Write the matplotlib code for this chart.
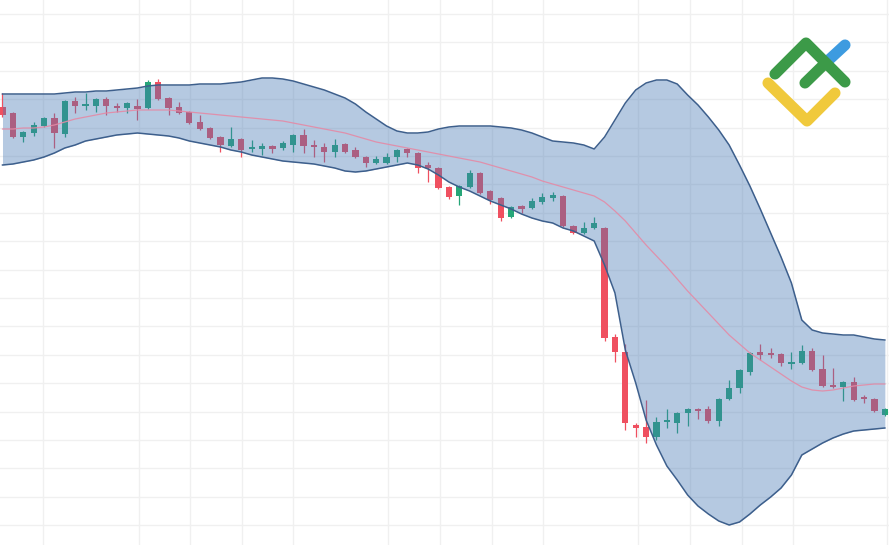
"""Candlestick chart with Bollinger bands, drawn to match the reference picture."""

import matplotlib

matplotlib.use("Agg")

import matplotlib.pyplot as plt
import numpy as np
from matplotlib.lines import Line2D

# --- data (price units) ---------------------------------------------------
opens = [438, 432, 408, 412, 419, 427, 411, 444, 439, 439,
         446, 439, 437, 439, 437, 463, 447, 438, 433, 423,
         417, 408, 399, 406, 396, 396, 399, 397, 400, 410,
         400, 398, 393, 401, 395, 388, 382, 382, 388, 396,
         392, 380, 377, 358, 349, 358, 372, 354, 347, 328,
         339, 337, 343, 347, 349, 319, 312, 317, 317, 208,
         193, 120, 118, 108, 123, 122, 132, 136, 136, 124,
         146, 157, 173, 193, 192, 191, 181, 182, 194, 176,
         160, 158, 163, 148, 146, 130]
highs = [452, 433, 414, 423, 428, 432, 445, 448, 452, 447,
         448, 442, 443, 446, 465, 466, 448, 443, 434, 430,
         418, 409, 418, 407, 405, 402, 400, 404, 411, 416,
         405, 402, 406, 402, 398, 389, 389, 392, 396, 397,
         393, 383, 378, 359, 360, 375, 373, 355, 348, 339,
         340, 347, 352, 353, 350, 320, 323, 328, 318, 211,
         201, 122, 145, 128, 136, 133, 137, 137, 139, 147,
         165, 176, 193, 201, 197, 192, 193, 200, 197, 190,
         177, 164, 168, 150, 147, 137]
lows = [428, 407, 403, 409, 418, 397, 408, 432, 435, 433,
        430, 433, 432, 425, 436, 445, 430, 431, 421, 415,
        406, 393, 398, 388, 393, 390, 392, 395, 393, 392,
        388, 383, 388, 392, 387, 378, 381, 381, 383, 388,
        372, 363, 356, 346, 340, 357, 351, 341, 324, 327,
        332, 336, 341, 344, 318, 311, 311, 316, 204, 183,
        115, 108, 102, 105, 117, 112, 119, 126, 122, 119,
        145, 152, 170, 185, 187, 179, 176, 181, 174, 158,
        157, 144, 144, 142, 133, 129]
closes = [430, 408, 413, 420, 427, 412, 444, 439, 441, 446,
          439, 437, 442, 436, 463, 446, 437, 432, 422, 416,
          407, 400, 406, 395, 398, 399, 396, 402, 410, 399,
          398, 393, 400, 393, 388, 382, 386, 388, 395, 392,
          377, 377, 357, 348, 359, 372, 352, 345, 327, 338,
          336, 344, 348, 350, 319, 312, 317, 322, 207, 193,
          122, 117, 108, 123, 125, 132, 136, 134, 124, 146,
          157, 175, 192, 190, 190, 182, 183, 194, 175, 159,
          158, 163, 145, 146, 134, 136]

band_upper = [451, 451, 451, 451, 451, 451, 452, 453, 453, 454,
              454, 455, 456, 457, 459, 460, 460, 460, 460, 461,
              461, 461, 462, 463, 465, 467, 467, 466, 464, 461,
              458, 455, 451, 447, 441, 433, 426, 419, 414, 412,
              412, 413, 416, 418, 419, 419, 419, 419, 418, 417,
              415, 412, 408, 404, 403, 402, 400, 396, 408, 425,
              442, 455, 462, 465, 465, 461, 450, 440, 428, 415,
              400, 380, 359, 336, 312, 288, 262, 225, 215, 212,
              211, 210, 210, 208, 206, 205]
band_mid = [416, 416, 417, 417, 418, 420, 423, 426, 428, 430,
            432, 433, 434, 435, 435, 435, 435, 434, 433, 432,
            431, 430, 429, 428, 427, 426, 425, 424, 422, 420,
            418, 416, 414, 412, 409, 406, 403, 401, 399, 397,
            395, 393, 391, 389, 387, 385, 383, 380, 377, 374,
            371, 368, 364, 361, 358, 355, 352, 349, 343, 334,
            324, 312, 300, 289, 278, 266, 254, 243, 232, 221,
            210, 201, 192, 185, 178, 171, 164, 158, 155, 154,
            155, 157, 159, 160, 161, 161]
band_lower = [380, 381, 383, 385, 388, 392, 397, 400, 404, 406,
              408, 410, 411, 412, 411, 410, 409, 407, 404, 402,
              400, 398, 395, 393, 390, 388, 386, 384, 383, 382,
              381, 379, 377, 374, 373, 374, 376, 378, 380, 382,
              380, 376, 370, 363, 358, 354, 349, 344, 340, 336,
              331, 327, 324, 322, 317, 314, 309, 304, 280, 252,
              195, 162, 125, 100, 79, 65, 50, 39, 31, 24,
              20, 23, 31, 40, 48, 57, 70, 90, 96, 102,
              107, 111, 114, 115, 116, 117]

# vertical grid lines sit on session boundaries (candle index units)
grid_x = [3.9, 13.15, 18.1, 23.1, 28.0, 37.15, 42.1, 47.15, 52.1,
          61.2, 66.2, 71.2, 76.15, 85.2]
grid_y = 531 - 28.4 * np.arange(19)

# logo strokes, figure pixel coordinates (x, y from top)
logo_blue = [(825.5, 63), (845, 45)]
logo_green = [[(775, 74), (806, 43), (845, 82)], [(805, 83), (825.5, 63)]]
logo_yellow = [(768, 83), (807, 121), (835, 93)]

UP_COLOR = "#26a678"
DOWN_COLOR = "#ef5060"
BAND_FILL = (70 / 255, 120 / 255, 180 / 255)
BAND_EDGE = "#3d5f8c"
MID_COLOR = "#e48aa6"

W, H = 889, 545

fig = plt.figure(figsize=(W / 100, H / 100), dpi=100)
ax = fig.add_axes([0, 0, 1, 1])
ax.set_xlim(-0.24, 85.40)
ax.set_ylim(0, H)
ax.axis("off")

for gx in grid_x:
    ax.axvline(gx, color="#f0f0f0", lw=1.0, zorder=0)
for gy in grid_y:
    ax.axhline(gy, color="#f0f0f0", lw=1.0, zorder=0)

x = np.arange(len(opens))
o = np.array(opens, dtype=float)
c = np.array(closes, dtype=float)
colors = [UP_COLOR if cc >= oo else DOWN_COLOR for oo, cc in zip(o, c)]

ax.vlines(x, lows, highs, colors=colors, lw=0.9, zorder=2)
body_bottom = np.minimum(o, c)
body_height = np.maximum(np.abs(c - o), 1.6)
ax.bar(x, body_height, bottom=body_bottom, width=0.6, color=colors,
       linewidth=0, zorder=2)

ax.fill_between(x, band_lower, band_upper, color=BAND_FILL, alpha=0.4,
                linewidth=0, zorder=3)
ax.plot(x, band_upper, color=BAND_EDGE, lw=1.1, zorder=4)
ax.plot(x, band_lower, color=BAND_EDGE, lw=1.1, zorder=4)
ax.plot(x, band_mid, color=MID_COLOR, lw=0.9, alpha=0.9, zorder=4)

# logo overlay in pixel coordinates
lax = fig.add_axes([0, 0, 1, 1])
lax.set_xlim(0, W)
lax.set_ylim(H, 0)
lax.axis("off")


def stroke(points, color):
    xs, ys = zip(*points)
    lax.add_line(Line2D(xs, ys, color=color, lw=8, solid_capstyle="round",
                        solid_joinstyle="round"))


stroke(logo_yellow, "#f0c93c")
stroke(logo_blue, "#3d9be0")
for part in logo_green:
    stroke(part, "#3c9a48")

fig.savefig("out.png", dpi=100)
